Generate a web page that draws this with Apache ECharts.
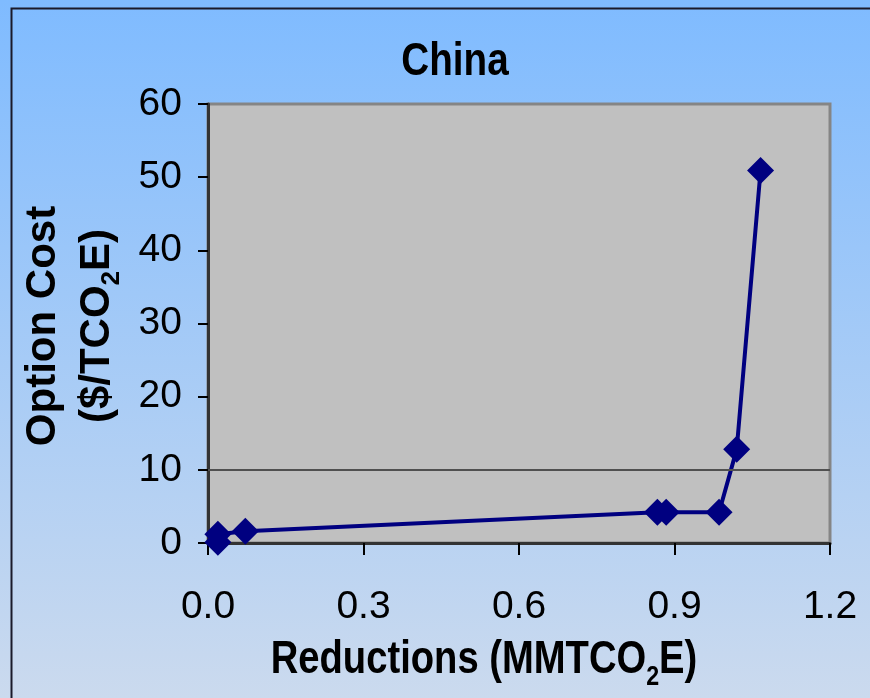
<!DOCTYPE html>
<html><head><meta charset="utf-8">
<script src="https://cdn.jsdelivr.net/npm/echarts@6/dist/echarts.min.js"></script>
<style>html,body{margin:0;padding:0;}#c{width:870px;height:698px;}</style>
</head><body><div id="c"></div>
<script>
const reductions = [0.019, 0.019, 0.072, 0.867, 0.884, 0.986, 1.020, 1.066];
const optionCost = [0.1, 1.2, 1.6, 4.2, 4.2, 4.2, 12.8, 50.9];
const xTicks = ['0.0', '0.3', '0.6', '0.9', '1.2'];
const yTicks = [0, 10, 20, 30, 40, 50, 60];
const titleText = 'China';

const sans = "'Liberation Sans', Arial, sans-serif";

const chart = echarts.init(document.getElementById('c'));
chart.setOption({
  animation: false,
  backgroundColor: {
    type: 'linear', x: 0, y: 0, x2: 0, y2: 1,
    colorStops: [{offset: 0, color: '#7fbbff'}, {offset: 1, color: '#cbdaee'}]
  },
  graphic: [{
    type: 'rect', left: 9, top: 6, shape: {width: 900, height: 720},
    style: {fill: 'none', stroke: '#1a1a2a', lineWidth: 2}, silent: true
  }, {
    type: 'text', x: 455, y: 62, scaleX: 0.84, silent: true,
    style: {text: titleText, fontFamily: sans, fontWeight: 'bold', fontSize: 46,
      fill: '#000', align: 'center', verticalAlign: 'middle'}
  }, {
    type: 'text', x: 484, y: 660, scaleX: 0.83, silent: true,
    style: {text: '{a|Reductions (MMTCO}{s|2}{a|E)}', align: 'center', verticalAlign: 'middle',
      rich: {
        a: {fontFamily: sans, fontWeight: 'bold', fontSize: 46, fill: '#000'},
        s: {fontFamily: sans, fontWeight: 'bold', fontSize: 28, fill: '#000', padding: [34, 0, 0, 0]}
      }}
  }, {
    type: 'text', x: 70, y: 326, rotation: Math.PI / 2, silent: true,
    style: {text: '{a|Option Cost}\n{a|($/TCO}{s|2}{a|E)}', align: 'center', verticalAlign: 'middle',
      rich: {
        a: {fontFamily: sans, fontWeight: 'bold', fontSize: 42, fill: '#000', lineHeight: 54, align: 'center'},
        s: {fontFamily: sans, fontWeight: 'bold', fontSize: 26, fill: '#000', lineHeight: 54, padding: [30, 0, 0, 0]}
      }}
  }],
  grid: {left: 208, right: 40, top: 104, bottom: 155, show: true,
    containLabel: false, outerBoundsMode: 'none',
    backgroundColor: '#c0c0c0', borderColor: '#858585', borderWidth: 3},
  xAxis: {
    type: 'value', min: 0, max: 1.2, interval: 0.3,
    axisLine: {show: true, onZero: false, lineStyle: {color: '#333', width: 3}},
    axisTick: {show: true, inside: false, length: 12, lineStyle: {color: '#000', width: 2}},
    splitLine: {show: false},
    axisLabel: {margin: 64, fontFamily: sans, fontSize: 39, color: '#000', verticalAlign: 'middle',
      formatter: v => xTicks[Math.round(v / 0.3)]}
  },
  yAxis: {
    type: 'value', min: 0, max: 60, interval: 10,
    axisLine: {show: true, lineStyle: {color: '#333', width: 3}},
    axisTick: {show: true, inside: false, length: 10, lineStyle: {color: '#000', width: 2}},
    splitLine: {show: false},
    axisLabel: {margin: 26, fontFamily: sans, fontSize: 39, color: '#000',
      formatter: v => yTicks.indexOf(v) >= 0 ? String(v) : ''}
  },
  series: [{
    type: 'line',
    data: reductions.map((x, i) => [x, optionCost[i]]),
    symbol: 'diamond', symbolSize: 27,
    lineStyle: {color: '#000080', width: 4},
    itemStyle: {color: '#000080'},
    markLine: {
      silent: true, symbol: 'none', label: {show: false},
      lineStyle: {color: '#505050', width: 2, type: 'solid'},
      data: [{yAxis: 10}]
    },
    z: 3
  }]
});
</script></body></html>
